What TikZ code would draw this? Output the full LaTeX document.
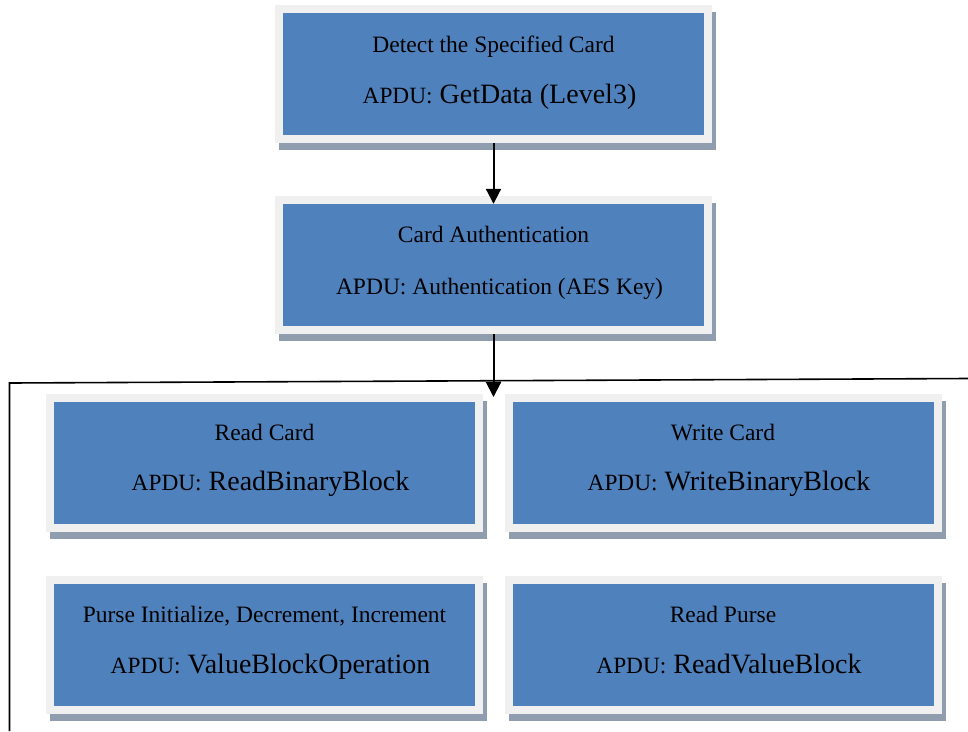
\documentclass[tikz,border=0pt]{standalone}
\usepackage{fontspec}
\setmainfont{Liberation Serif}
\newfontfamily\boxfont{Liberation Serif}
\usetikzlibrary{arrows.meta,shadows}

\definecolor{panelblue}{RGB}{79,129,189}
\definecolor{framegray}{RGB}{240,240,240}
\definecolor{shadowgray}{RGB}{143,157,175}

\tikzset{
  frame/.style={fill=framegray, draw=none, inner sep=0pt,
    minimum width=437pt, minimum height=138pt,
    drop shadow={shadow xshift=4pt, shadow yshift=-7pt, fill=shadowgray, opacity=1}},
  panel/.style={fill=panelblue, draw=none, inner sep=0pt,
    minimum width=421pt, minimum height=122pt},
  title/.style={anchor=base, inner sep=0pt, font=\boxfont\fontsize{23.5}{28}\selectfont},
  cmd/.style={anchor=base, inner sep=0pt, font=\boxfont\fontsize{28}{32}\selectfont},
  flow/.style={line width=2pt, -{Triangle[length=15pt,width=15pt]}},
  border/.style={line width=1.6pt}
}
\newcommand{\apdu}{{\fontsize{23.3}{28}\selectfont APDU:}}

\begin{document}
\begin{tikzpicture}[x=1pt, y=-1pt]
\useasboundingbox (0,0) rectangle (968,731);

% step 1
\node[frame] (f1) at (493.5,74) {};
\node[panel] (b1) at (f1) {};
\node[title] (t1) at (493.5,52) {Detect the Specified Card};
\node[cmd] (c1) at (499.5,103) {\apdu{} GetData (Level3)};

% step 2
\node[frame] (f2) at (493.5,265) {};
\node[panel] (b2) at (f2) {};
\node[title] (t2) at (493.5,242) {Card Authentication};
\node[title] (c2) at (499.5,294) {APDU: Authentication (AES Key)};

% operations group border
\coordinate (gr) at (968,378.5);
\coordinate (gl) at (9.5,383);
\coordinate (gb) at (9.5,731);
\draw[border] (gr) -- (gl) -- (gb);

% operations
\node[frame] (f3) at (264.5,462.5) {};
\node[panel] (b3) at (f3) {};
\node[title] (t3) at (264.5,440) {Read Card};
\node[cmd] (c3) at (270.5,490) {\apdu{} ReadBinaryBlock};

\node[frame] (f4) at (723,462.5) {};
\node[panel] (b4) at (f4) {};
\node[title] (t4) at (723,440) {Write Card};
\node[cmd] (c4) at (729,490) {\apdu{} WriteBinaryBlock};

\node[frame] (f5) at (264.5,645) {};
\node[panel] (b5) at (f5) {};
\node[title] (t5) at (264.5,622) {Purse Initialize, Decrement, Increment};
\node[cmd] (c5) at (270.5,673) {\apdu{} ValueBlockOperation};

\node[frame] (f6) at (723,645) {};
\node[panel] (b6) at (f6) {};
\node[title] (t6) at (723,622) {Read Purse};
\node[cmd] (c6) at (729,673) {\apdu{} ReadValueBlock};

% flow arrows
\coordinate (g0) at (493.5,397);
\draw[flow] (f1.south) -- (b2.north);
\draw[flow] (f2.south) -- (g0);
\end{tikzpicture}
\end{document}
